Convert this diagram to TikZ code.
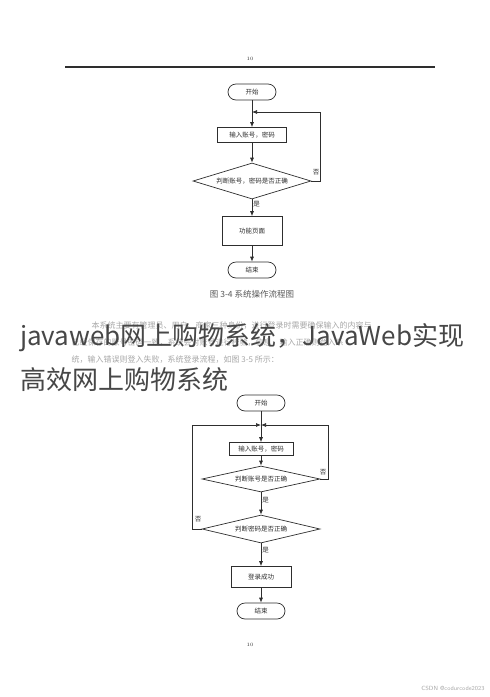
\documentclass[tikz,border=0pt]{standalone}
\usepackage{fontspec}
\newfontfamily\cjk{Noto Sans CJK SC}
\usetikzlibrary{arrows.meta,shapes.geometric}
\definecolor{ink}{HTML}{2E2E2E}
\definecolor{titleink}{HTML}{474747}
\definecolor{faint}{HTML}{A8A8A8}
\tikzset{
  pill/.style={draw=ink, line width=0.7pt, rounded corners=8pt, minimum width=48pt, minimum height=16pt, inner sep=0pt, font=\cjk\fontsize{6.5}{7}\selectfont, text=ink},
  procbox/.style={draw=ink, line width=0.7pt, minimum height=15pt, inner sep=2pt, font=\cjk\fontsize{6.5}{7}\selectfont, text=ink},
  decide/.style={draw=ink, line width=0.7pt, diamond, shape aspect=3.5, inner sep=0pt, font=\cjk\fontsize{6.5}{7}\selectfont, text=ink},
  arr/.style={draw=ink, line width=0.7pt, -{Latex[length=5pt,width=4pt]}},
  lbl/.style={font=\cjk\fontsize{6.5}{7}\selectfont, text=ink, inner sep=1pt}
}
\begin{document}
\begin{tikzpicture}[x=1pt,y=-1pt]
\useasboundingbox (0,0) rectangle (490,697);
\fill[white] (0,0) rectangle (490,697);
% header
\node[font=\fontsize{5}{6}\selectfont, text=ink] (pg1) at (250,59) {10};
\draw[ink, line width=2.6pt] (65,67) -- (435,67);
% flowchart 1
\node[pill] (s1) at (252,92) {开始};
\node[procbox, minimum width=69pt] (in1) at (252,135) {输入账号，密码};
\node[decide, minimum width=118pt, minimum height=36pt] (d1) at (252,181) {判断账号，密码是否正确};
\node[procbox, minimum width=60pt, minimum height=29pt] (f1) at (252,231) {功能页面};
\node[pill] (e1) at (252,270) {结束};
\coordinate (j1) at (252,112);
\draw[arr] (s1) -- (in1);
\draw[arr] (in1) -- (d1);
\draw[arr] (d1) -- node[lbl, right, pos=0.3] {是} (f1);
\draw[arr] (f1) -- (e1);
\draw[arr] (d1.east) -- ++(9,0) |- (j1);
\node[lbl] (no1) at (316,172) {否};
\node[font=\cjk\fontsize{8.5}{10}\selectfont, text=ink!80] (cap1) at (252,294) {图 3-4 系统操作流程图};
% faint paragraph (behind the title overlay, as in the reference)
\node[font=\cjk\fontsize{8}{9}\selectfont, text=faint, anchor=west] (p1) at (88,326) {本系统主要有管理员、用户、商家三种身份，进行登录时需要确保输入的内容与};
\node[font=\cjk\fontsize{8}{9}\selectfont, text=faint, anchor=west] (p2) at (68,343) {已经保存的账号密码一致，系统会对账号进行校验，信息，输入正确则登入系};
\node[font=\cjk\fontsize{8}{9}\selectfont, text=faint, anchor=west] (p3) at (68,360) {统，输入错误则登入失败，系统登录流程，如图 3-5 所示：};
% title overlay
\node[font=\cjk\fontsize{26}{30}\selectfont, text=titleink, anchor=west, inner sep=0pt] (t1) at (20,338) {javaweb网上购物系统，JavaWeb实现};
\node[font=\cjk\fontsize{26}{30}\selectfont, text=titleink, anchor=west, inner sep=0pt] (t2) at (20,380) {高效网上购物系统};
% flowchart 2
\node[pill] (s2) at (261,403) {开始};
\node[procbox, minimum width=64pt, minimum height=13pt] (in2) at (261,449) {输入账号，密码};
\node[decide, minimum width=118pt, minimum height=26pt] (d2) at (261,479) {判断账号是否正确};
\node[decide, minimum width=118pt, minimum height=28pt] (d3) at (261,529) {判断密码是否正确};
\node[procbox, minimum width=60pt, minimum height=21pt] (f2) at (261,577) {登录成功};
\node[pill] (e2) at (261,611) {结束};
\coordinate (j2) at (261,425);
\draw[arr] (s2) -- (in2);
\draw[arr] (in2) -- (d2);
\draw[arr] (d2) -- node[lbl, right, pos=0.35] {是} (d3);
\draw[arr] (d3) -- node[lbl, right, pos=0.3] {是} (f2);
\draw[arr] (f2) -- (e2);
\draw[arr] (d2.east) -- ++(8,0) |- (j2);
\draw[arr] (d3.west) -- ++(-9,0) |- (j2);
\node[lbl] (no2) at (323,472) {否};
\node[lbl] (no3) at (198,519) {否};
\node[font=\fontsize{5}{6}\selectfont, text=ink] (pg2) at (250,645) {10};
% watermark
\node[font=\fontsize{6}{7}\selectfont\sffamily, text=faint, anchor=east] (wm) at (488,688) {CSDN @codurcode2023};
\end{tikzpicture}
\end{document}
